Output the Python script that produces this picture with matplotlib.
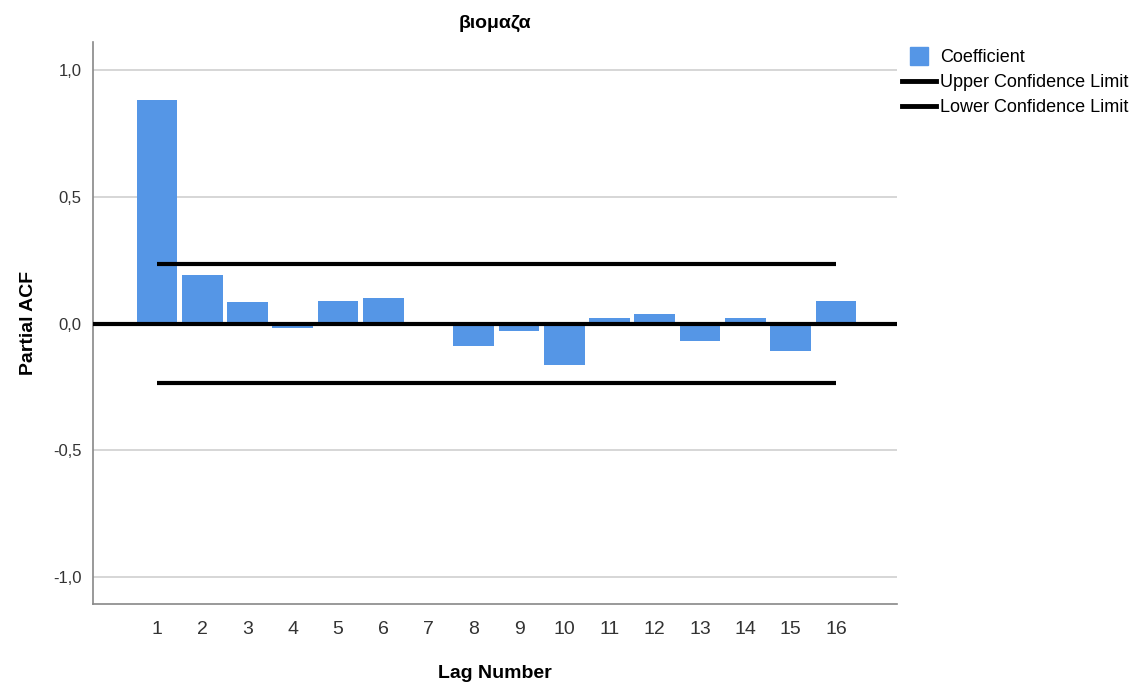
import matplotlib.pyplot as plt
from matplotlib.lines import Line2D

plt.rcParams['font.family'] = ['Liberation Sans', 'DejaVu Sans']

lags = list(range(1, 17))
pacf = [0.880, 0.193, 0.083, -0.016, 0.087, 0.099, 0.002, -0.090,
        -0.028, -0.162, 0.020, 0.036, -0.067, 0.020, -0.110, 0.087]
upper = [0.233] * 16
lower = [-0.233] * 16
yticks = [-1.0, -0.5, 0.0, 0.5, 1.0]
ytick_labels = ['-1,0', '-0,5', '0,0', '0,5', '1,0']

bar_color = '#5596e6'

fig = plt.figure(figsize=(11.35, 6.89), dpi=100)
ax = fig.add_axes([0.0819, 0.1234, 0.7084, 0.8156])

for y in yticks:
    ax.axhline(y, color='#d0d0d0', lw=1.2, zorder=0)

ax.bar(lags, pacf, width=0.9, color=bar_color, zorder=2)
ax.plot(lags, upper, color='black', lw=3, zorder=3, solid_capstyle='butt')
ax.plot(lags, lower, color='black', lw=3, zorder=3, solid_capstyle='butt')
ax.axhline(0, color='black', lw=3, zorder=4)

ax.set_xlim(-0.414, 17.35)
ax.set_ylim(-1.106, 1.11)
ax.set_xticks(lags)
ax.set_xticklabels([str(l) for l in lags], fontsize=14, color='#333333')
ax.set_yticks(yticks)
ax.set_yticklabels(ytick_labels, fontsize=12, color='#333333')
ax.tick_params(length=0)
ax.tick_params(axis='x', pad=12)
ax.tick_params(axis='y', pad=8)

for s in ['top', 'right']:
    ax.spines[s].set_visible(False)
for s in ['left', 'bottom']:
    ax.spines[s].set_color('#888888')
    ax.spines[s].set_linewidth(1.2)

ax.set_title('βιομαζα', fontsize=14, fontweight='bold', pad=10)
ax.set_xlabel('Lag Number', fontsize=14, fontweight='bold', labelpad=20)
ax.set_ylabel('Partial ACF', fontsize=14, fontweight='bold', labelpad=12)

handles = [
    Line2D([], [], marker='s', color='none', markerfacecolor=bar_color,
           markeredgecolor=bar_color, markersize=13),
    Line2D([], [], color='black', lw=3.5),
    Line2D([], [], color='black', lw=3.5),
]
fig.legend(handles, ['Coefficient', 'Upper Confidence Limit', 'Lower Confidence Limit'],
           loc='upper left', bbox_to_anchor=(0.795, 0.929), frameon=False,
           fontsize=13, handlelength=1.85, handletextpad=0.25, labelspacing=0.45,
           borderaxespad=0, borderpad=0)

fig.savefig('out.png', dpi=100)
